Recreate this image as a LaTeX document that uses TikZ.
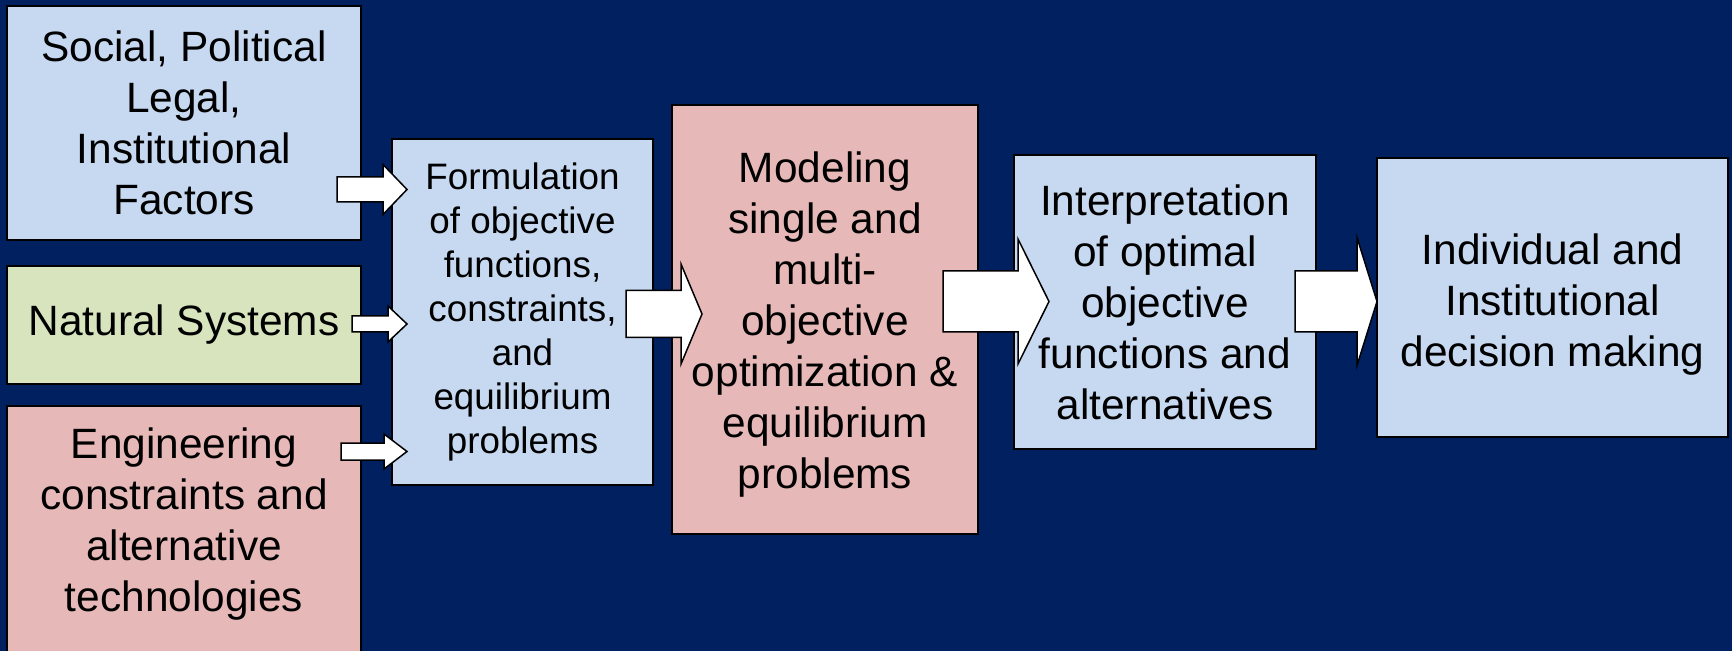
\documentclass[tikz,border=0pt]{standalone}
\usepackage{fontspec}
\setmainfont{Liberation Sans}
\usetikzlibrary{calc}

\definecolor{navy}{RGB}{0,32,96}
\definecolor{paleblue}{RGB}{198,217,241}
\definecolor{palegreen}{RGB}{215,228,189}
\definecolor{palepink}{RGB}{230,185,184}

% Block arrow: #1 tail point (only x used), #2 tip point,
% #3 head length, #4 shaft half-width, #5 head half-width (all in px units)
\newcommand\blockarrow[5]{%
  \draw[flowarrow] (#2)
    -- ($(#2)+(-#3,-#5)$) -- ($(#2)+(-#3,-#4)$) -- ($(#1|-#2)+(0,-#4)$)
    -- ($(#1|-#2)+(0,#4)$) -- ($(#2)+(-#3,#4)$) -- ($(#2)+(-#3,#5)$) -- cycle;}

\begin{document}
\begin{tikzpicture}[x=0.5pt,y=-0.5pt,
  box/.style={draw=black, line width=1pt, inner sep=0pt, outer sep=0pt,
    align=center, text=black, font=\fontsize{21.2}{25.5}\selectfont},
  smallbox/.style={box, font=\fontsize{18.4}{22}\selectfont},
  label/.style={align=center, text=black, inner sep=0pt,
    font=\fontsize{21.2}{25.5}\selectfont},
  flowarrow/.style={draw=black, fill=white, line width=0.75pt, line join=miter}]

  % page and background
  \useasboundingbox (0,0) rectangle (1732,651);
  \fill[navy] (0,0) rectangle (1732,651);

  % input factors
  \node[box, fill=paleblue, minimum width=177pt, minimum height=117pt]
    (soc) at (184,123) {Social, Political\\Legal,\\Institutional\\Factors};
  \node[box, fill=palegreen, minimum width=177pt, minimum height=59pt]
    (nat) at (184,325) {Natural Systems};
  \node[box, fill=palepink, minimum width=177pt, minimum height=150pt, anchor=north]
    (engbox) at (184,406) {};
  \node[label] (eng) at (184,524)
    {Engineering\\constraints and\\alternative\\technologies};

  % processing chain
  \node[smallbox, fill=paleblue, minimum width=130.5pt, minimum height=173pt]
    (form) at (522.5,312)
    {Formulation\\of objective\\functions,\\constraints,\\and\\equilibrium\\problems};
  \node[box, fill=palepink, minimum width=153pt, minimum height=214.5pt]
    (model) at (825,319.5) {};
  \node[label] (modeltext) at (825,325)
    {Modeling\\single and\\multi-\\objective\\optimization \&\\equilibrium\\problems};
  \node[box, fill=paleblue, minimum width=151pt, minimum height=146.5pt]
    (interp) at (1165,302)
    {Interpretation\\of optimal\\objective\\functions and\\alternatives};
  \node[box, fill=paleblue, minimum width=175.5pt, minimum height=139.5pt]
    (indiv) at (1552.5,297.5) {};
  \node[label] (indivtext) at (1552.5,305)
    {Individual and\\Institutional\\decision making};

  % arrow end points
  \coordinate (a1s) at ($(soc.east)+(-24,0)$);
  \coordinate (a1e) at ($(form.west)+(15,-122.5)$);
  \coordinate (a2s) at ($(nat.east)+(-9,0)$);
  \coordinate (a2e) at ($(form.west)+(15,12)$);
  \coordinate (a3s) at ($(engbox.east)+(-20,0)$);
  \coordinate (a3e) at ($(form.west)+(15,139.5)$);
  \coordinate (a4s) at ($(form.east)+(-27,0)$);
  \coordinate (a4e) at ($(model.west)+(30,-5.5)$);
  \coordinate (a5s) at ($(model.east)+(-35,0)$);
  \coordinate (a5e) at ($(interp.west)+(35,-0.5)$);
  \coordinate (a6s) at ($(interp.east)+(-21,0)$);
  \coordinate (a6e) at ($(indiv.west)+(0,4)$);

  % arrows
  \blockarrow{a1s}{a1e}{24}{12.5}{25}
  \blockarrow{a2s}{a2e}{19}{8}{18}
  \blockarrow{a3s}{a3e}{23}{8.5}{17.5}
  \blockarrow{a4s}{a4e}{21}{23.5}{50}
  \blockarrow{a5s}{a5e}{31}{30.5}{62.5}
  \blockarrow{a6s}{a6e}{20}{30.5}{64}
\end{tikzpicture}
\end{document}
